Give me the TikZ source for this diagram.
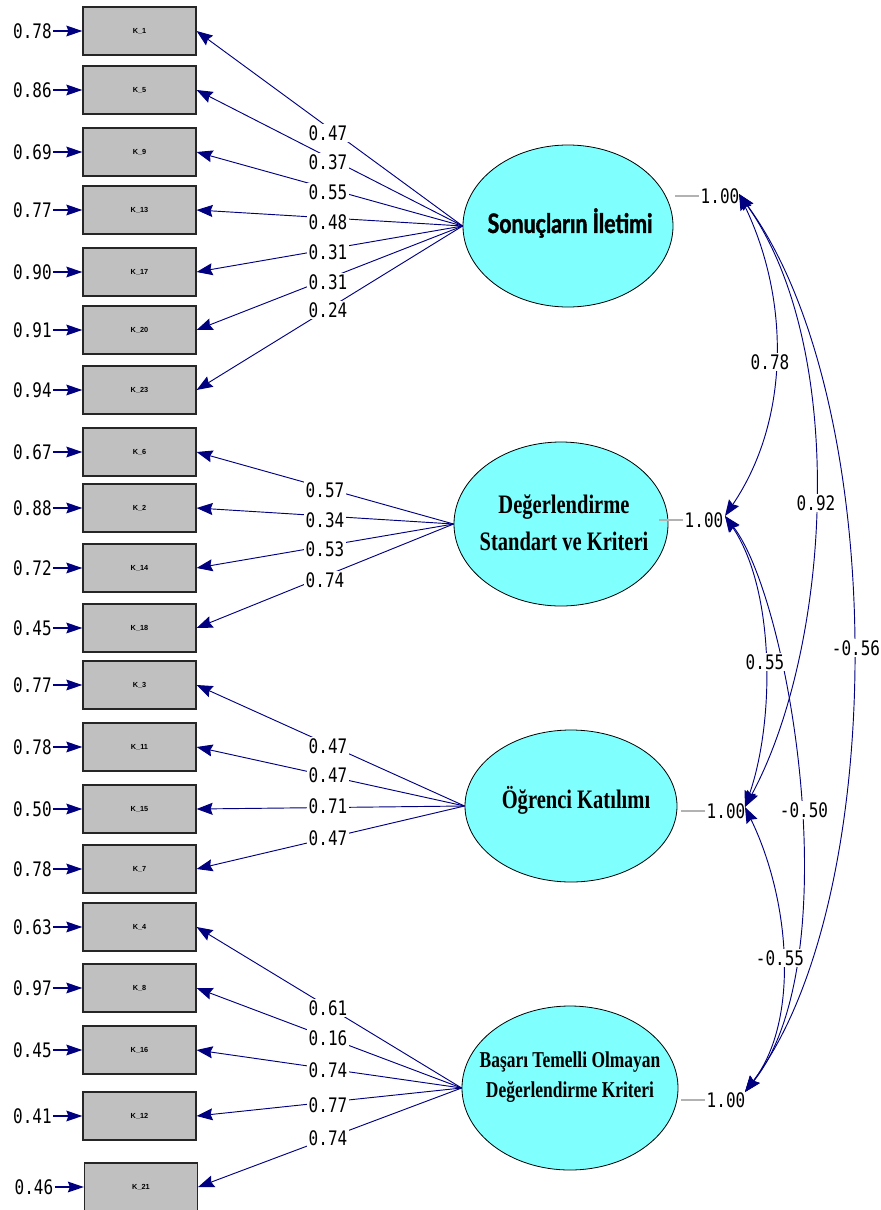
\documentclass[tikz,border=0pt]{standalone}
\usepackage{fontspec}
\setmainfont{Liberation Serif}
\newfontfamily\numfont[FakeStretch=0.8]{DejaVu Sans Mono}
\newfontfamily\latfont[FakeStretch=0.77]{Liberation Serif}
\newfontfamily\sansbfont[FakeStretch=0.8,FakeBold=1.5]{Lato}
\newfontfamily\boxfont{Liberation Sans}
\usetikzlibrary{arrows.meta,shapes.geometric}
\definecolor{navyc}{RGB}{0,0,128}
\definecolor{cyanfill}{RGB}{128,255,255}
\definecolor{boxgray}{RGB}{192,192,192}
\tikzset{
  obs/.style={draw=black!85, fill=boxgray, line width=0.9pt, minimum width=84.75pt, minimum height=36pt, inner sep=0pt, font=\boxfont\bfseries\fontsize{5.5}{5.5}\selectfont},
  lat/.style={ellipse, draw=black, fill=cyanfill, line width=0.6pt, inner sep=0pt},
  num/.style={font=\numfont\fontsize{15}{15}\selectfont, inner sep=1pt, text=black},
  lab/.style={num, fill=white},
  load/.style={navyc, line width=0.7pt, -{Stealth[length=12pt,width=9pt,inset=1.5pt]}},
  errarr/.style={navyc, line width=1.1pt, -{Stealth[length=12pt,width=8pt,inset=1.5pt]}},
  cov/.style={navyc, line width=0.7pt, {Stealth[length=12pt,width=9pt,inset=1.5pt]}-{Stealth[length=12pt,width=9pt,inset=1.5pt]}},
  varline/.style={gray!60, line width=0.8pt},
  ltxt/.style={font=\latfont\bfseries\fontsize{20}{27.75}\selectfont, align=center, inner sep=0pt},
}
\begin{document}
\begin{tikzpicture}[x=0.75pt,y=-0.75pt]
\useasboundingbox (0,0) rectangle (881,1210);

% latent variables
\node[lat, minimum width=157.5pt, minimum height=121.5pt] (e1) at (568,226) {};
\node[lat, minimum width=160.5pt, minimum height=123pt] (e2) at (561,524) {};
\node[lat, minimum width=159pt, minimum height=114pt] (e3) at (571,806) {};
\node[lat, minimum width=162pt, minimum height=123pt] (e4) at (570,1088) {};

\node[font=\sansbfont\bfseries\fontsize{20}{20}\selectfont, inner sep=0pt] (n1) at (570,223) {Sonuçların İletimi};
\node[ltxt] (n2) at (564,523) {Değerlendirme\\Standart ve Kriteri};
\node[ltxt] (n3) at (576,800) {Öğrenci Katılımı};
\node[ltxt, font=\latfont\bfseries\fontsize{17}{22.5}\selectfont] (n4) at (570,1077) {Başarı Temelli Olmayan\\Değerlendirme Kriteri};

% observed variables
\node[obs] (k1) at (139.5,31) {K\_1};
\node[obs] (k5) at (139.5,90) {K\_5};
\node[obs] (k9) at (139.5,152) {K\_9};
\node[obs] (k13) at (139.5,210) {K\_13};
\node[obs] (k17) at (139.5,272) {K\_17};
\node[obs] (k20) at (139.5,330) {K\_20};
\node[obs] (k23) at (139.5,390) {K\_23};
\node[obs] (k6) at (139.5,452) {K\_6};
\node[obs] (k2) at (139.5,508) {K\_2};
\node[obs] (k14) at (139.5,568) {K\_14};
\node[obs] (k18) at (139.5,628) {K\_18};
\node[obs] (k3) at (139.5,685) {K\_3};
\node[obs] (k11) at (139.5,747) {K\_11};
\node[obs] (k15) at (139.5,809) {K\_15};
\node[obs] (k7) at (139.5,869) {K\_7};
\node[obs] (k4) at (139.5,927) {K\_4};
\node[obs] (k8) at (139.5,988) {K\_8};
\node[obs] (k16) at (139.5,1050) {K\_16};
\node[obs] (k12) at (139.5,1116) {K\_12};
\node[obs] (k21) at (141,1187) {K\_21};

% error variances
\node[num] (r1) at (32.5,31) {0.78};
\node[num] (r5) at (32.5,90) {0.86};
\node[num] (r9) at (32.5,152) {0.69};
\node[num] (r13) at (32.5,210) {0.77};
\node[num] (r17) at (32.5,272) {0.90};
\node[num] (r20) at (32.5,330) {0.91};
\node[num] (r23) at (32.5,390) {0.94};
\node[num] (r6) at (32.5,452) {0.67};
\node[num] (r2) at (32.5,508) {0.88};
\node[num] (r14) at (32.5,568) {0.72};
\node[num] (r18) at (32.5,628) {0.45};
\node[num] (r3) at (32.5,685) {0.77};
\node[num] (r11) at (32.5,747) {0.78};
\node[num] (r15) at (32.5,809) {0.50};
\node[num] (r7) at (32.5,869) {0.78};
\node[num] (r4) at (32.5,927) {0.63};
\node[num] (r8) at (32.5,988) {0.97};
\node[num] (r16) at (32.5,1050) {0.45};
\node[num] (r12) at (32.5,1116) {0.41};
\node[num] (r21) at (34,1187) {0.46};
\foreach \i in {1,5,9,13,17,20,23,6,2,14,18,3,11,15,7,4,8,16,12,21}
  \draw[errarr] (r\i.east) -- (k\i.west);

% loadings
\foreach \i in {1,5,9,13,17,20,23} \draw[load] (e1.west) -- (k\i.east);
\foreach \i in {6,2,14,18} \draw[load] (e2.west) -- (k\i.east);
\foreach \i in {3,11,15,7} \draw[load] (e3.west) -- (k\i.east);
\foreach \i in {4,8,16,12,21} \draw[load] (e4.west) -- (k\i.east);

\node[lab] (l1) at (328,133) {0.47};
\node[lab] (l5) at (328,162) {0.37};
\node[lab] (l9) at (328,192) {0.55};
\node[lab] (l13) at (328,222) {0.48};
\node[lab] (l17) at (328,252) {0.31};
\node[lab] (l20) at (328,282) {0.31};
\node[lab] (l23) at (328,310) {0.24};
\node[lab] (l6) at (325,490) {0.57};
\node[lab] (l2) at (325,520) {0.34};
\node[lab] (l14) at (325,549) {0.53};
\node[lab] (l18) at (325,580) {0.74};
\node[lab] (l3) at (328,746) {0.47};
\node[lab] (l11) at (328,775) {0.47};
\node[lab] (l15) at (328,806) {0.71};
\node[lab] (l7) at (328,838) {0.47};
\node[lab] (l4) at (328,1008) {0.61};
\node[lab] (l8) at (328,1038) {0.16};
\node[lab] (l16) at (328,1070) {0.74};
\node[lab] (l12) at (328,1105) {0.77};
\node[lab] (l21) at (328,1138) {0.74};

% variances of latent variables
\node[num] (v1) at (720,196) {1.00};
\node[num] (v2) at (704,520) {1.00};
\node[num] (v3) at (726,811) {1.00};
\node[num] (v4) at (726,1100) {1.00};
\draw[varline] (v1.west) -- ++(-24,0);
\draw[varline] (v2.west) -- ++(-24,0);
\draw[varline] (v3.west) -- ++(-24,0);
\draw[varline] (v4.west) -- ++(-24,0);

\coordinate (t1) at (739,194);
\coordinate (t2) at (725,516);
\coordinate (t3) at (745,807);
\coordinate (t4) at (745,1092);

% covariances
\draw[cov] (t1) .. controls (790,300) and (790,420) .. (t2);
\draw[cov] (t1) .. controls (850,350) and (830,650) .. (t3);
\draw[cov] (t1) .. controls (890,400) and (890,900) .. (t4);
\draw[cov] (t2) .. controls (775,590) and (775,720) .. (t3);
\draw[cov] (t2) .. controls (790,600) and (850,960) .. (t4);
\draw[cov] (t3) .. controls (790,900) and (800,1020) .. (t4);

\node[lab] (c12) at (770,362) {0.78};
\node[lab] (c13) at (816,503) {0.92};
\node[lab] (c14) at (856,648) {-0.56};
\node[lab] (c23) at (765,662) {0.55};
\node[lab] (c24) at (804,810) {-0.50};
\node[lab] (c34) at (780,958) {-0.55};
\end{tikzpicture}
\end{document}
